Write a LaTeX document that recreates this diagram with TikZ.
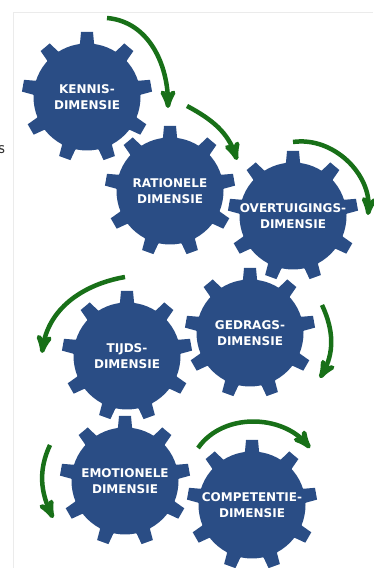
\documentclass[tikz,border=0pt]{standalone}
\usepackage{fontspec}
\newfontfamily\gearfont{DejaVu Sans}
\usetikzlibrary{arrows}
\definecolor{gearblue}{RGB}{42,77,133}
\definecolor{arrowgreen}{RGB}{24,112,24}

\begin{document}
\begin{tikzpicture}[x=1pt,y=1pt,>=stealth',
  gear label/.style={text=white,align=center,inner sep=0pt,font=\gearfont\bfseries\fontsize{12}{15.5}\selectfont},
  spin/.style={->,draw=arrowgreen,line width=4.5pt}]

  \useasboundingbox (0,0) rectangle (373,568);
  \draw[black!8] (13,0) -- (13,556) -- (373,556);
  \node[anchor=east,inner sep=0pt,text=black!80,font=\sffamily\fontsize{18}{18}\selectfont] (stray) at (5,418) {s};

  % gears
  \foreach \name/\pos/\txt in {kennis/{87,471}/{KENNIS-\\DIMENSIE},
      rationeel/{170,377}/{RATIONELE\\DIMENSIE},
      overtuiging/{293,352}/{OVERTUIGINGS-\\DIMENSIE},
      gedrag/{250,235}/{GEDRAGS-\\DIMENSIE},
      tijd/{127,212}/{TIJDS-\\DIMENSIE},
      emotie/{125,87}/{EMOTIONELE\\DIMENSIE},
      competentie/{252,63}/{COMPETENTIE-\\DIMENSIE}} {
    \fill[gearblue] (\pos) circle (53.5);
    \foreach \a in {90,130,...,410}
      \fill[gearblue,shift={(\pos)},rotate=\a] (50,-8.5) -- (54,-7) -- (65,-6) -- (65,6) -- (54,7) -- (50,8.5) -- cycle;
    \node[gear label] (\name) at (\pos) {\txt};
  }

  % arrows
  \coordinate (k1) at (107,550);  \coordinate (k2) at (168,460);
  \coordinate (r1) at (187,462);  \coordinate (r2) at (237,408);
  \coordinate (o1) at (293,426);  \coordinate (o2) at (368,353);
  \coordinate (t1) at (125,291);  \coordinate (t2) at (42,215);
  \coordinate (g1) at (322,263);  \coordinate (g2) at (320,190);
  \coordinate (e1) at (50,123);   \coordinate (e2) at (53,50);
  \coordinate (c1) at (198,120);  \coordinate (c2) at (310,120);

  \path[every edge/.style={spin}]
    (k1) edge [out=-5,in=90] (k2)
    (r1) edge [out=-28,in=108] (r2)
    (o1) edge [out=8,in=85] (o2)
    (t1) edge [out=190,in=82] (t2)
    (g1) edge [out=-65,in=60] (g2)
    (e1) edge [out=-115,in=115] (e2)
    (c1) edge [out=55,in=130] (c2);
\end{tikzpicture}
\end{document}
